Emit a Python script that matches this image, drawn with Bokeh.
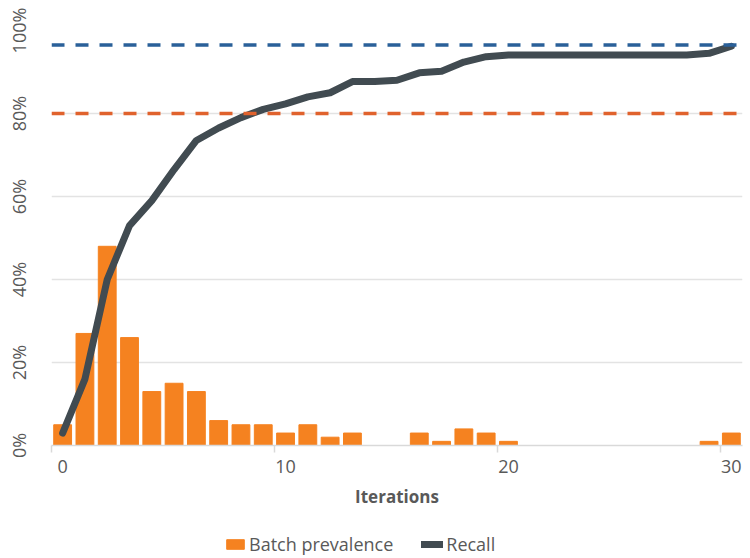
from bokeh.plotting import figure
from bokeh.layouts import column
from bokeh.models import (Range1d, FixedTicker, Span, Legend, LegendItem,
                          NumeralTickFormatter)
from bokeh.embed import file_html
from bokeh.resources import INLINE

iterations = list(range(31))
batch_prevalence = [0.05, 0.27, 0.48, 0.26, 0.13, 0.15, 0.13, 0.06, 0.05, 0.05,
                    0.03, 0.05, 0.02, 0.03, 0.0, 0.0, 0.03, 0.01, 0.04, 0.03,
                    0.01, 0.0, 0.0, 0.0, 0.0, 0.0, 0.0, 0.0, 0.0, 0.01, 0.03]
recall = [0.03, 0.16, 0.40, 0.53, 0.59, 0.665, 0.735, 0.765, 0.79, 0.81,
          0.823, 0.84, 0.85, 0.877, 0.877, 0.88, 0.898, 0.902, 0.924, 0.937,
          0.941, 0.941, 0.941, 0.941, 0.941, 0.941, 0.941, 0.941, 0.941, 0.945, 0.962]
target_high = 0.965
target_low = 0.80
x_ticks = [0, 10, 20, 30]
x_boundaries = [-0.5, 9.5, 19.5, 29.5]
y_ticks = [0, 0.2, 0.4, 0.6, 0.8, 1.0]

FONT = "Open Sans"
GRAY = "#595959"
BAR_COLOR = "#F58220"
LINE_COLOR = "#414B51"

p = figure(frame_width=691, frame_height=415, output_backend="svg",
           toolbar_location=None,
           x_range=Range1d(-0.5, 30.5), y_range=Range1d(0, 1.0),
           min_border_left=51, min_border_right=8, min_border_top=30,
           min_border_bottom=83)
p.outline_line_color = None

bars = p.vbar(x=iterations, top=batch_prevalence, width=0.8, color=BAR_COLOR)
line = p.line(x=iterations, y=recall, line_width=7, color=LINE_COLOR,
              line_cap="round", line_join="round")

p.add_layout(Span(location=target_high, dimension="width", line_color="#2A6099",
                  line_width=3.5, line_dash="13 11"))
p.add_layout(Span(location=target_low, dimension="width", line_color="#E0622D",
                  line_width=3.5, line_dash="13 11"))

# y axis
ya = p.yaxis[0]
ya.ticker = FixedTicker(ticks=y_ticks)
ya.formatter = NumeralTickFormatter(format="0%")
ya.major_label_orientation = "vertical"
ya.axis_line_color = None
ya.major_tick_line_color = None
ya.minor_tick_line_color = None
ya.major_tick_out = 0
ya.minor_tick_out = 0
ya.major_label_text_font = FONT
ya.major_label_text_font_size = "18px"
ya.major_label_text_color = GRAY
ya.major_label_standoff = 21

# x axis
xa = p.xaxis[0]
xa.ticker = FixedTicker(ticks=x_ticks, minor_ticks=x_boundaries)
xa.axis_line_color = "#D9D9D9"
xa.axis_line_width = 1.5
xa.major_tick_line_color = None
xa.major_tick_in = 0
xa.major_tick_out = 7
xa.minor_tick_line_color = "#D9D9D9"
xa.minor_tick_line_width = 1.5
xa.minor_tick_in = 0
xa.minor_tick_out = 7
xa.major_label_text_font = FONT
xa.major_label_text_font_size = "18px"
xa.major_label_text_color = GRAY
xa.major_label_standoff = 7
xa.axis_label = "Iterations"
xa.axis_label_text_font = FONT
xa.axis_label_text_font_style = "bold"
xa.axis_label_text_font_size = "17px"
xa.axis_label_text_color = GRAY
xa.axis_label_standoff = 9

p.xgrid.grid_line_color = None
p.ygrid.ticker = FixedTicker(ticks=[0.2, 0.4, 0.6, 0.8, 1.0])
p.ygrid.grid_line_color = "#E3E3E3"
p.ygrid.grid_line_width = 1.5

# legend strip below the chart
lg = figure(width=750, height=30, output_backend="svg", toolbar_location=None,
            x_range=Range1d(0, 1), y_range=Range1d(0, 1),
            min_border=0, x_axis_type=None, y_axis_type=None)
lg.outline_line_color = None
lg.xgrid.visible = False
lg.ygrid.visible = False
lbars = lg.vbar(x=iterations, top=batch_prevalence, width=0.8, color=BAR_COLOR,
                visible=False)
lline = lg.line(x=iterations, y=recall, line_width=7, color=LINE_COLOR,
                line_cap="round", visible=False)
legend = Legend(items=[LegendItem(label="Batch prevalence", renderers=[lbars]),
                       LegendItem(label="Recall", renderers=[lline])],
                orientation="horizontal", location=(173, 2),
                label_text_font=FONT, label_text_font_size="18px",
                label_text_color=GRAY, glyph_width=22, glyph_height=12,
                label_standoff=3, spacing=28, border_line_color=None,
                background_fill_alpha=0, inactive_fill_alpha=0,
                padding=0, margin=0)
lg.add_layout(legend, "center")

layout = column(p, lg, spacing=0)
open("out.html", "w").write(file_html(layout, INLINE))
